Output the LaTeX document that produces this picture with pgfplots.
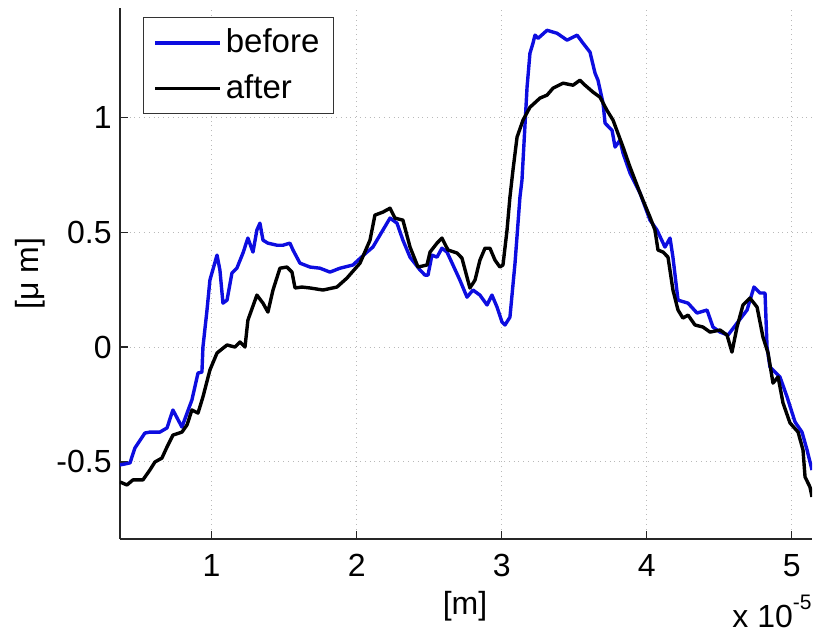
\documentclass[border=0pt]{standalone}
\usepackage{fontspec}
\setmainfont{Liberation Sans}
\usepackage{pgfplots}
\pgfplotsset{compat=1.18}
\definecolor{mblue}{rgb}{0.05,0.05,0.88}
\begin{document}
\fontsize{16}{19}\selectfont
\begin{tikzpicture}
\useasboundingbox (-60pt,-48pt) rectangle (347.5pt,269.5pt);
\begin{axis}[
  name=ax,
  at={(0,0)}, anchor=south west,
  scale only axis, width=346pt, height=265.5pt,
  xmin=0.368, xmax=5.14, ymin=-0.835, ymax=1.475,
  axis x line*=bottom, axis y line*=left,
  axis line style={black!85, line width=0.6pt},
  xtick={1,2,3,4,5}, xticklabels={1,2,3,4,5},
  ytick={-0.5,0,0.5,1}, yticklabels={-0.5,0,0.5,1},
  tick align=inside, major tick length=4pt,
  tick style={black!85, line width=0.6pt},
  xticklabel style={anchor=base, yshift=-19pt, inner sep=0pt},
  yticklabel style={anchor=east, inner sep=0pt, xshift=-4pt},
  grid=major,
  major grid style={dotted, gray!55, line width=0.5pt},
  xlabel={[m]},
  xlabel style={at={(axis description cs:0.4986,0)}, anchor=base, yshift=-38pt, inner sep=0pt},
  ylabel={[μ m]},
  ylabel style={at={(axis description cs:-0.130,0.5)}, anchor=center, inner sep=0pt},
  legend style={at={(axis description cs:0.0332,0.983)}, anchor=north west,
    draw=black!80, line width=0.5pt, font=\fontsize{16.5}{19}\selectfont,
    inner xsep=5pt, inner ysep=3.5pt, row sep=4.5pt, cells={anchor=west}},
  legend cell align=left,
  legend image code/.code={\draw[#1] (0pt,0pt) -- (32.5pt,0pt);},
  every axis plot/.append style={line width=1.7pt, line join=round},
  clip=true,
]
\addplot[mblue] coordinates {
(0.368,-0.513) (0.437,-0.504) (0.471,-0.439) (0.540,-0.374) (0.574,-0.370)
(0.643,-0.370) (0.692,-0.352) (0.733,-0.274) (0.795,-0.348) (0.864,-0.230)
(0.906,-0.113) (0.933,-0.109) (0.940,0.000) (0.968,0.161) (0.988,0.291)
(1.037,0.400) (1.057,0.335) (1.078,0.191) (1.106,0.204) (1.140,0.322)
(1.174,0.343) (1.216,0.409) (1.250,0.474) (1.285,0.413) (1.312,0.509)
(1.333,0.539) (1.354,0.465) (1.388,0.452) (1.450,0.443) (1.492,0.443)
(1.540,0.452) (1.561,0.422) (1.609,0.365) (1.678,0.348) (1.747,0.343)
(1.816,0.326) (1.885,0.343) (1.974,0.357) (2.071,0.413) (2.112,0.435)
(2.230,0.561) (2.278,0.539) (2.319,0.465) (2.368,0.391) (2.437,0.335)
(2.471,0.313) (2.492,0.313) (2.519,0.400) (2.554,0.391) (2.588,0.430)
(2.623,0.413) (2.664,0.357) (2.712,0.291) (2.761,0.217) (2.802,0.248)
(2.850,0.226) (2.899,0.183) (2.933,0.226) (2.968,0.174) (3.002,0.109)
(3.023,0.096) (3.057,0.130) (3.092,0.365) (3.126,0.652) (3.140,0.726)
(3.175,1.130) (3.195,1.278) (3.216,1.322) (3.230,1.357) (3.251,1.343)
(3.313,1.378) (3.382,1.365) (3.451,1.335) (3.520,1.357) (3.561,1.322)
(3.609,1.283) (3.644,1.191) (3.664,1.161) (3.699,1.061) (3.713,0.974)
(3.761,0.943) (3.782,0.870) (3.816,0.900) (3.837,0.843) (3.885,0.757)
(3.954,0.670) (4.023,0.552) (4.071,0.509) (4.126,0.435) (4.161,0.474)
(4.181,0.391) (4.216,0.204) (4.285,0.191) (4.347,0.148) (4.416,0.161)
(4.457,0.087) (4.506,0.065) (4.561,0.052) (4.623,0.104) (4.692,0.161)
(4.740,0.261) (4.781,0.235) (4.816,0.235) (4.830,0.000) (4.850,-0.087)
(4.919,-0.130) (4.968,-0.217) (5.023,-0.326) (5.071,-0.370) (5.106,-0.448)
(5.140,-0.535)
};
\addlegendentry{before}
\addplot[black] coordinates {
(0.368,-0.587) (0.416,-0.600) (0.457,-0.578) (0.526,-0.578) (0.574,-0.535)
(0.609,-0.500) (0.657,-0.483) (0.692,-0.435) (0.733,-0.383) (0.795,-0.370)
(0.830,-0.339) (0.864,-0.274) (0.906,-0.287) (0.940,-0.217) (0.988,-0.100)
(1.037,-0.026) (1.106,0.009) (1.161,0.000) (1.195,0.022) (1.230,0.000)
(1.250,0.117) (1.312,0.226) (1.354,0.191) (1.388,0.152) (1.423,0.248)
(1.471,0.343) (1.519,0.348) (1.554,0.326) (1.575,0.257) (1.623,0.261)
(1.678,0.257) (1.768,0.248) (1.864,0.261) (1.933,0.300) (2.023,0.365)
(2.092,0.465) (2.126,0.574) (2.181,0.587) (2.230,0.604) (2.264,0.561)
(2.319,0.552) (2.368,0.435) (2.423,0.348) (2.485,0.357) (2.506,0.413)
(2.554,0.452) (2.588,0.474) (2.630,0.422) (2.692,0.409) (2.726,0.387)
(2.761,0.304) (2.781,0.257) (2.816,0.291) (2.850,0.378) (2.885,0.430)
(2.919,0.430) (2.954,0.378) (2.988,0.348) (3.009,0.357) (3.037,0.509)
(3.057,0.652) (3.078,0.770) (3.106,0.913) (3.147,0.987) (3.195,1.043)
(3.264,1.083) (3.313,1.096) (3.354,1.126) (3.423,1.148) (3.492,1.139)
(3.540,1.161) (3.575,1.139) (3.630,1.109) (3.678,1.087) (3.726,1.030)
(3.768,0.987) (3.837,0.870) (3.885,0.783) (3.954,0.670) (4.023,0.565)
(4.057,0.509) (4.078,0.422) (4.113,0.413) (4.147,0.391) (4.181,0.248)
(4.216,0.161) (4.250,0.126) (4.285,0.139) (4.333,0.096) (4.388,0.087)
(4.437,0.065) (4.506,0.074) (4.554,0.052) (4.588,-0.022) (4.623,0.087)
(4.664,0.183) (4.712,0.213) (4.761,0.174) (4.802,0.043) (4.837,-0.026)
(4.871,-0.157) (4.906,-0.130) (4.940,-0.243) (4.988,-0.330) (5.044,-0.370)
(5.078,-0.448) (5.092,-0.565) (5.126,-0.609) (5.140,-0.652)
};
\addlegendentry{after}
\end{axis}
\node[anchor=base east, inner sep=0pt] at ([yshift=-44.5pt]ax.south east)
  {x 10\raisebox{9pt}{\fontsize{10.5}{12}\selectfont -5}};
\end{tikzpicture}
\end{document}
